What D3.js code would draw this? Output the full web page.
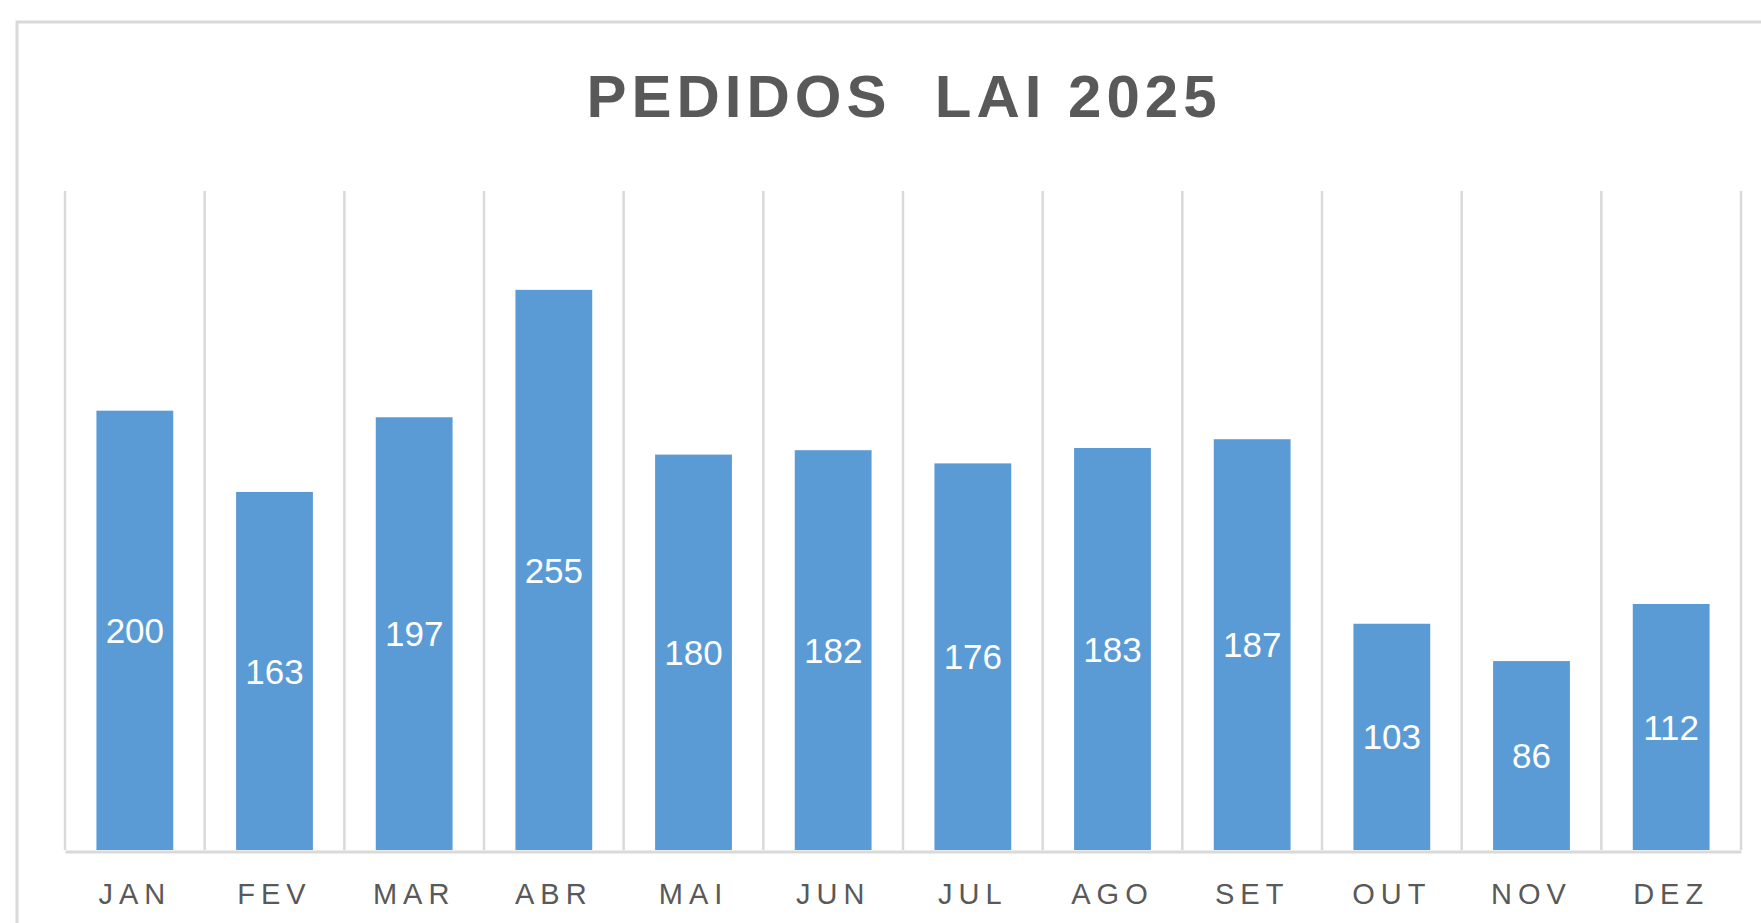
<!DOCTYPE html>
<html>
<head>
<meta charset="utf-8">
<script src="https://cdn.jsdelivr.net/npm/d3@7"></script>
<style>
  body { margin: 0; background: #fff; overflow: hidden; }
  text { font-family: "Liberation Sans", Arial, sans-serif; }
</style>
</head>
<body>
<div id="chart"></div>
<script>
// data
var months = ["JAN", "FEV", "MAR", "ABR", "MAI", "JUN", "JUL", "AGO", "SET", "OUT", "NOV", "DEZ"];
var pedidos = [200, 163, 197, 255, 180, 182, 176, 183, 187, 103, 86, 112];
var chartTitle = "PEDIDOS  LAI 2025";

var width = 1761, height = 923;
var plotLeft = 65, plotRight = 1741, plotTop = 191, plotBottom = 850;

var svg = d3.select("#chart").append("svg")
    .attr("width", width)
    .attr("height", height);

// outer frame of the chart (runs off the page right and bottom)
svg.append("rect")
  .attr("x", 17)
  .attr("y", 22)
  .attr("width", 1800)
  .attr("height", 1000)
  .attr("fill", "none")
  .attr("stroke", "#d9d9d9")
  .attr("stroke-width", 3);

svg.append("text")
  .attr("x", 904)
  .attr("y", 117)
  .attr("text-anchor", "middle")
  .attr("font-size", 60)
  .attr("font-weight", "bold")
  .attr("letter-spacing", 5)
  .attr("fill", "#595959")
  .style("white-space", "pre")
  .text(chartTitle);

var x = d3.scaleBand()
  .domain(months)
  .range([plotLeft, plotRight])
  .padding(0);

var y = d3.scaleLinear()
  .domain([0, 300])
  .range([plotBottom, plotTop]);

// vertical gridlines between categories
var bounds = months.map(function(m) { return x(m); }).concat([plotRight]);
svg.append("g")
  .attr("class", "grid")
  .selectAll("line")
  .data(bounds)
  .enter().append("line")
  .attr("x1", function(d) { return d; })
  .attr("x2", function(d) { return d; })
  .attr("y1", plotTop)
  .attr("y2", plotBottom)
  .attr("stroke", "#d9d9d9")
  .attr("stroke-width", 2.5);

var bw = x.bandwidth() * 0.55;

svg.append("g")
  .attr("class", "bars")
  .selectAll("rect")
  .data(pedidos)
  .enter().append("rect")
  .attr("x", function(d, i) { return x(months[i]) + (x.bandwidth() - bw) / 2; })
  .attr("y", function(d) { return y(d); })
  .attr("width", bw)
  .attr("height", function(d) { return y(0) - y(d); })
  .attr("fill", "#5b9bd5");

svg.append("g")
  .attr("class", "labels")
  .selectAll("text")
  .data(pedidos)
  .enter().append("text")
  .attr("x", function(d, i) { return x(months[i]) + x.bandwidth() / 2; })
  .attr("y", function(d) { return (y(d) + y(0)) / 2; })
  .attr("dy", "0.36em")
  .attr("text-anchor", "middle")
  .attr("font-size", 35)
  .attr("fill", "#fff")
  .text(function(d) { return d; });

// category axis
var xAxis = svg.append("g")
  .attr("transform", "translate(0," + (plotBottom + 1.5) + ")")
  .call(d3.axisBottom(x).tickSize(0).tickPadding(32));

xAxis.select(".domain")
  .attr("stroke", "#d9d9d9")
  .attr("stroke-width", 3);

xAxis.selectAll("text")
  .attr("font-family", "Liberation Sans, Arial, sans-serif")
  .attr("font-size", 29)
  .attr("letter-spacing", 6)
  .attr("fill", "#595959")
  .attr("dy", "0.71em");
</script>
</body>
</html>
